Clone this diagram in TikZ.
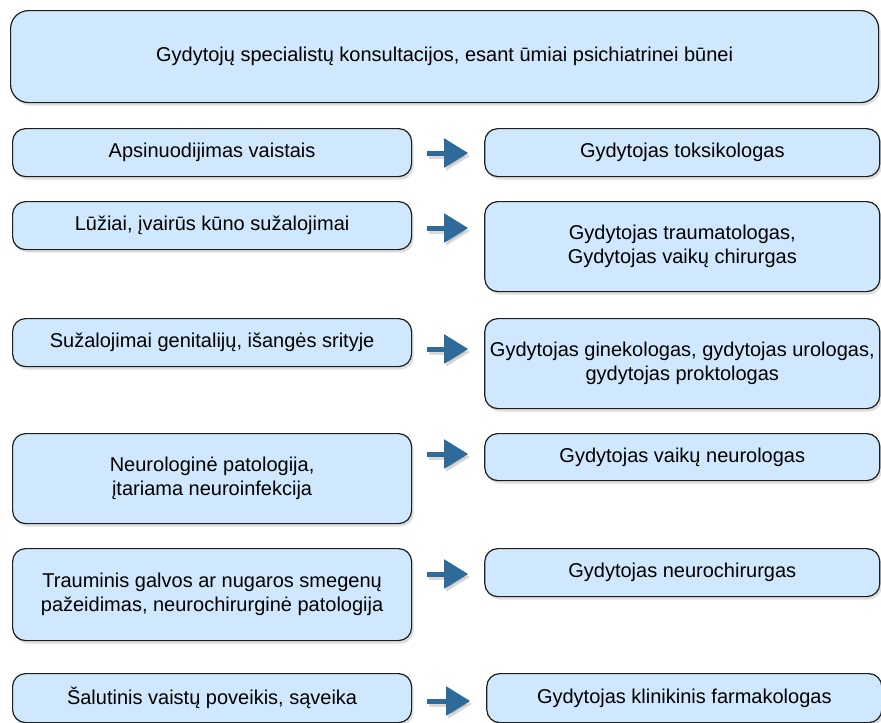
\documentclass[tikz,border=0pt]{standalone}
\usepackage{fontspec}
\setmainfont{Liberation Sans}
\usetikzlibrary{positioning, arrows.meta, calc, shadows}
\definecolor{boxfill}{HTML}{CFE8FD}
\definecolor{boxline}{HTML}{1E1E1E}
\definecolor{arrowblue}{HTML}{2E6B9A}
\tikzset{
  base/.style={
    draw=boxline,
    fill=boxfill,
    line width=1.2pt,
    rounded corners=13pt,
    align=center,
    font=\fontsize{20}{24}\selectfont,
    inner sep=2pt,
    drop shadow={shadow xshift=2pt, shadow yshift=-3pt, opacity=0.25},
  },
  headbox/.style={base, rounded corners=18pt, minimum width=868pt, minimum height=92pt},
  cause/.style={base, minimum width=399pt},
  doctor/.style={base, minimum width=395pt},
  arr/.style={-{Triangle[length=24pt, width=28pt]}, arrowblue, line width=5pt},
  arrshade/.style={arr, black, opacity=0.15, transform canvas={xshift=2pt, yshift=-3pt}},
}

\begin{document}
\begin{tikzpicture}[x=1pt, y=-1pt]
\useasboundingbox (0,0) rectangle (881,723);

% Heading
\node[headbox, anchor=north west] (head) at (10,10) {Gydytojų specialistų konsultacijos, esant ūmiai psichiatrinei būnei};

% Left column: conditions
\node[cause, minimum height=48pt, anchor=north west] (c1) at (12,128) {Apsinuodijimas vaistais};
\node[cause, minimum height=48pt, anchor=north west] (c2) at (12,201) {Lūžiai, įvairūs kūno sužalojimai};
\node[cause, minimum height=48pt, anchor=north west] (c3) at (12,318) {Sužalojimai genitalijų, išangės srityje};
\node[cause, minimum height=90pt, anchor=north west] (c4) at (12,433) {Neurologinė patologija,\\įtariama neuroinfekcija};
\node[cause, minimum height=92pt, anchor=north west] (c5) at (12,548) {Trauminis galvos ar nugaros smegenų\\pažeidimas, neurochirurginė patologija};
\node[cause, minimum height=49pt, anchor=north west] (c6) at (12,673) {Šalutinis vaistų poveikis, sąveika};

% Right column: specialists
\node[doctor, minimum height=48pt, right=72pt of c1.north east, anchor=north west] (d1) {Gydytojas toksikologas};
\node[doctor, minimum height=90pt, right=72pt of c2.north east, anchor=north west] (d2) {Gydytojas traumatologas,\\Gydytojas vaikų chirurgas};
\node[doctor, minimum height=90pt, right=72pt of c3.north east, anchor=north west] (d3) {Gydytojas ginekologas, gydytojas urologas,\\gydytojas proktologas};
\node[doctor, minimum height=47pt, right=72pt of c4.north east, anchor=north west] (d4) {Gydytojas vaikų neurologas};
\node[doctor, minimum height=48pt, right=72pt of c5.north east, anchor=north west] (d5) {Gydytojas neurochirurgas};
\node[doctor, minimum height=49pt, right=74pt of c6.north east, anchor=north west] (d6) {Gydytojas klinikinis farmakologas};

% --- Arrows ------------------------------------------------------------
\foreach \n/\dy in {1/25, 2/27, 3/31, 4/21, 5/26, 6/28}
  {\draw[arrshade] ($(c\n.north east)+(15,\dy)$) -- ($(d\n.north west)+(-16,\dy)$);
   \draw[arr] ($(c\n.north east)+(15,\dy)$) -- ($(d\n.north west)+(-16,\dy)$);}

\end{tikzpicture}
\end{document}
